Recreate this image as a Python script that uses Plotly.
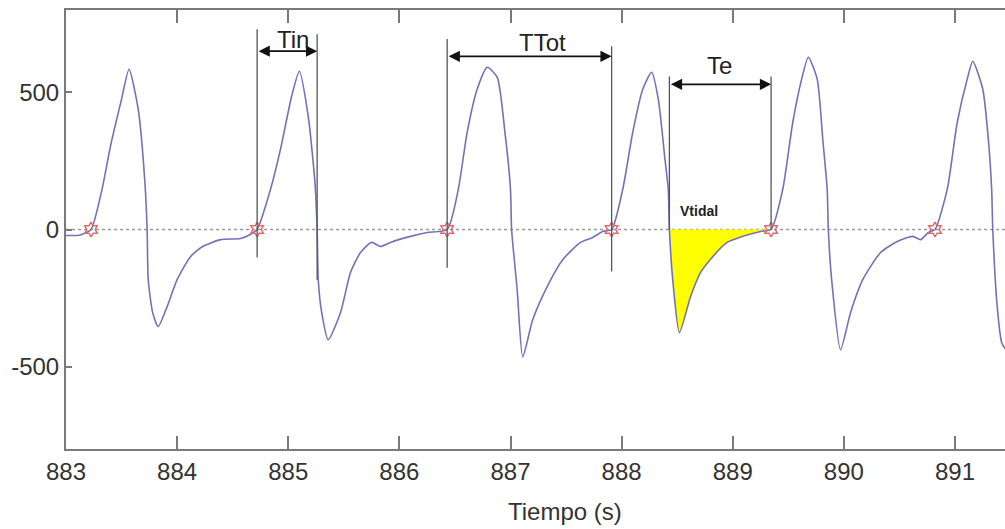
import plotly.graph_objects as go

# Flujo respiratorio (ml/s) frente al tiempo (s)
tiempo = [
    883.00, 883.13, 883.225, 883.324, 883.40, 883.50, 883.567, 883.65, 883.71, 883.73,
    883.74, 883.78, 883.83, 883.91, 884.00, 884.12, 884.23, 884.39, 884.57, 884.65,
    884.72, 884.84, 884.93, 885.03, 885.10, 885.18, 885.24, 885.26, 885.27, 885.30,
    885.36, 885.47, 885.56, 885.65, 885.75, 885.83, 885.92, 886.10, 886.25, 886.43,
    886.53, 886.61, 886.70, 886.79, 886.88, 886.95, 887.00, 887.01, 887.06, 887.11,
    887.20, 887.33, 887.47, 887.63, 887.74, 887.83, 887.91, 888.01, 888.10, 888.19,
    888.27, 888.33, 888.39, 888.42, 888.43, 888.46, 888.52, 888.62, 888.71, 888.82,
    888.95, 889.09, 889.25, 889.345, 889.45, 889.54, 889.62, 889.68, 889.76, 889.81,
    889.85, 889.86, 889.89, 889.97, 890.06, 890.17, 890.33, 890.48, 890.62, 890.69,
    890.76, 890.82, 890.93, 891.02, 891.11, 891.16, 891.25, 891.30, 891.33, 891.34,
    891.38, 891.42, 891.46,
]
flujo = [
    -22, -20, 0, 146, 303, 475, 584, 438, 172, 0,
    -183, -303, -354, -281, -183, -99, -62, -37, -33, -20,
    0, 146, 292, 485, 577, 412, 172, 0, -183, -300,
    -402, -303, -157, -84, -47, -62, -47, -25, -11, 0,
    146, 354, 511, 591, 555, 354, 146, 0, -219, -464,
    -329, -208, -110, -47, -29, -7, 0, 146, 354, 511,
    573, 475, 256, 146, 0, -183, -376, -245, -157, -99,
    -47, -25, -7, 0, 146, 390, 548, 628, 548, 329,
    146, 0, -183, -438, -303, -183, -84, -44, -25, -37,
    -11, 0, 146, 390, 548, 613, 511, 329, 146, 0,
    -281, -412, -440,
]

# Inicios de inspiración detectados (cruces por cero)
cruces = [883.225, 884.72, 886.43, 887.91, 889.345, 890.82]

# Intervalos señalados: etiqueta, inicio, fin
intervalos = ["Tin", "TTot", "Te"]
ini_int = [884.72, 886.43, 888.43]
fin_int = [885.26, 887.91, 889.345]

# Volumen espirado (área sombreada)
vt_ini, vt_fin = 888.43, 889.345

x_ticks = [883, 884, 885, 886, 887, 888, 889, 890, 891]
y_ticks = [-500, 0, 500]
y_tick_txt = ["-500", "0", "500"]

FONT = "Liberation Sans, Arial, sans-serif"
GRIS = "#7a7a7a"
TXT = "#333333"

fig = go.Figure()

# Área del volumen tidal
sel = [(t, f) for t, f in zip(tiempo, flujo) if vt_ini <= t <= vt_fin]
fig.add_trace(go.Scatter(
    x=[p[0] for p in sel], y=[p[1] for p in sel],
    mode="lines", fill="toself", fillcolor="#ffff00",
    line=dict(width=0, shape="spline", smoothing=0.6),
    hoverinfo="skip", showlegend=False,
))

# Señal de flujo
fig.add_trace(go.Scatter(
    x=tiempo, y=flujo, mode="lines",
    line=dict(color="#7272ba", width=1.6, shape="spline", smoothing=0.6),
    showlegend=False,
))

# Marcas de inicio de inspiración
fig.add_trace(go.Scatter(
    x=cruces, y=[0] * len(cruces), mode="markers",
    marker=dict(symbol="hexagram-open", size=11, color="#e06a6a",
                line=dict(width=1.5, color="#e06a6a")),
    showlegend=False,
))

# Línea de cero punteada
fig.add_shape(type="line", xref="paper", yref="y", x0=0, x1=1, y0=0, y1=0,
              line=dict(color="#9a9a9a", width=1.5, dash="dot"), layer="below")

# Líneas verticales de los intervalos
v_lineas = [884.72, 885.26, 886.43, 887.91, 888.43, 889.345]
v_sup = [730, 712, 694, 668, 558, 558]
v_inf = [-102, -183, -139, -153, 0, 0]
for xv, ys, yi in zip(v_lineas, v_sup, v_inf):
    fig.add_shape(type="line", xref="x", yref="y", x0=xv, x1=xv, y0=yi, y1=ys,
                  line=dict(color="#555555", width=1.3))

# Flechas dobles y etiquetas
y_flecha = [650, 631, 529]
y_texto = [694, 683, 599]
x_texto = [885.04, 887.29, 888.88]
for nom, a, b, yf, yt, xt in zip(intervalos, ini_int, fin_int, y_flecha, y_texto, x_texto):
    fig.add_annotation(x=b, y=yf, ax=a, ay=yf, xref="x", yref="y", axref="x", ayref="y",
                       text="", showarrow=True, arrowside="end+start", arrowhead=2,
                       arrowsize=1.4, arrowwidth=1.6, arrowcolor="#111111",
                       standoff=0, startstandoff=0)
    fig.add_annotation(x=xt, y=yt, xref="x", yref="y", text=nom, showarrow=False,
                       font=dict(family=FONT, size=24, color="#222222"))

fig.add_annotation(x=888.70, y=69, xref="x", yref="y", text="<b>Vtidal</b>",
                   showarrow=False, font=dict(family=FONT, size=14, color="#222222"))

# Título del eje x
fig.add_annotation(x=0.531, y=-0.1435, xref="paper", yref="paper", text="Tiempo (s)",
                   showarrow=False, yanchor="middle",
                   font=dict(family=FONT, size=24, color=TXT))

fig.update_layout(
    width=1005, height=529,
    margin=dict(l=66, r=0, t=10, b=80),
    paper_bgcolor="white", plot_bgcolor="white",
    font=dict(family=FONT, size=24, color=TXT),
    xaxis=dict(range=[883, 891.45], tickvals=x_ticks, ticks="inside", ticklen=13,
               tickwidth=1.5, tickcolor=GRIS, showline=True, linecolor=GRIS,
               linewidth=2, mirror="ticks", showgrid=False, zeroline=False,
               automargin=False),
    yaxis=dict(range=[-800, 800], tickvals=y_ticks, ticktext=y_tick_txt,
               ticks="inside", ticklen=6, tickwidth=1.5, tickcolor=GRIS,
               showline=True, linecolor=GRIS, linewidth=2, showgrid=False,
               zeroline=False, automargin=False),
)

fig.write_html("out.html")
